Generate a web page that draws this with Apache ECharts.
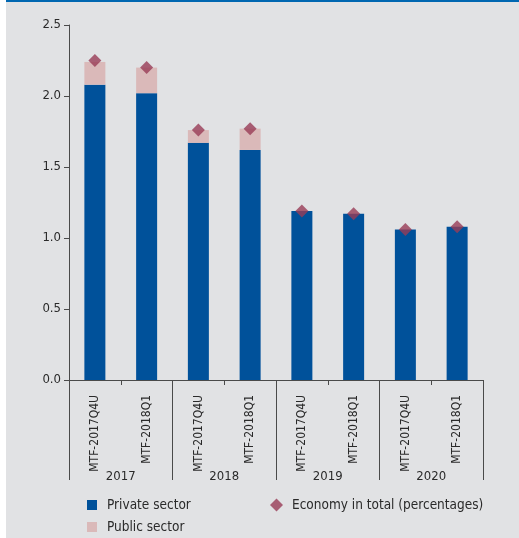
<!DOCTYPE html>
<html>
<head>
<meta charset="utf-8">
<script src="https://cdn.jsdelivr.net/npm/echarts@6/dist/echarts.min.js"></script>
<style>
  html, body { margin: 0; padding: 0; background: #ffffff; }
  #chart {
    position: absolute;
    left: 6px;
    top: 0;
    width: 513px;
    height: 536px;
    border-top: 2px solid #0067b1;
    background: #e1e2e4;
  }
</style>
</head>
<body>
<div id="chart"></div>
<script>
// categories: two vintages per year
const vintages = ["MTF-2017Q4U", "MTF-2018Q1", "MTF-2017Q4U", "MTF-2018Q1",
                  "MTF-2017Q4U", "MTF-2018Q1", "MTF-2017Q4U", "MTF-2018Q1"];
const years = ["2017", "2018", "2019", "2020"];

const privateSector = [2.08, 2.02, 1.67, 1.62, 1.19, 1.17, 1.06, 1.08];
const publicSector = [0.16, 0.18, 0.09, 0.15, 0.0, 0.0, 0.0, 0.0];
const economyTotal = [2.25, 2.20, 1.76, 1.77, 1.19, 1.17, 1.06, 1.08];

const yTicks = { min: 0, max: 2.5, interval: 0.5 };

const FONT = "'DejaVu Sans Condensed', 'Liberation Sans', sans-serif";
const TXT = "#2a2a2a";
const AXIS = "#4a4a4a";

const chart = echarts.init(document.getElementById("chart"), null, { renderer: "canvas" });

function legendItem(name, left, top, icon, size, pad) {
  return {
    data: [{ name: name, icon: icon }],
    left: left,
    top: top,
    itemWidth: size,
    itemHeight: size,
    textStyle: { fontFamily: FONT, fontSize: 13.5, color: TXT, padding: [0, 0, 0, pad] },
    selectedMode: false
  };
}

const option = {
  animation: false,
  backgroundColor: "transparent",
  textStyle: { fontFamily: FONT, color: TXT },
  grid: { left: 63, right: 36, top: 23, bottom: 158 },
  legend: [
    legendItem("Private sector", 76, 491, "rect", 10, 5),
    legendItem("Public sector", 76, 513, "rect", 10, 5),
    legendItem("Economy in total (percentages)", 259, 491, "diamond", 13, 4)
  ],
  xAxis: [
    {
      type: "category",
      data: vintages,
      position: "bottom",
      axisLine: { show: true, lineStyle: { color: AXIS, width: 1 } },
      axisTick: { show: true, length: 5, interval: 0, lineStyle: { color: AXIS } },
      axisLabel: {
        interval: 0,
        rotate: 90,
        margin: 15,
        fontSize: 12,
        fontFamily: FONT,
        color: TXT
      }
    },
    {
      type: "category",
      data: years,
      position: "bottom",
      axisLine: { show: true, lineStyle: { color: AXIS, width: 1 } },
      axisTick: { show: true, length: 100, interval: 0, lineStyle: { color: AXIS } },
      axisLabel: {
        interval: 0,
        margin: 90,
        fontSize: 13,
        fontFamily: FONT,
        color: TXT
      }
    }
  ],
  yAxis: {
    type: "value",
    min: yTicks.min,
    max: yTicks.max,
    interval: yTicks.interval,
    axisLine: { show: true, lineStyle: { color: AXIS, width: 1 } },
    axisTick: { show: true, length: 5, lineStyle: { color: AXIS } },
    splitLine: { show: false },
    axisLabel: {
      margin: 8,
      fontSize: 13,
      fontFamily: FONT,
      color: TXT,
      formatter: (v) => v.toFixed(1)
    }
  },
  series: [
    {
      name: "Private sector",
      type: "bar",
      stack: "total",
      xAxisIndex: 0,
      barWidth: 21,
      itemStyle: { color: "#00519a" },
      data: privateSector
    },
    {
      name: "Public sector",
      type: "bar",
      stack: "total",
      xAxisIndex: 0,
      barWidth: 21,
      itemStyle: { color: "#dab9b9" },
      data: publicSector
    },
    {
      name: "Economy in total (percentages)",
      type: "scatter",
      xAxisIndex: 0,
      symbol: "diamond",
      symbolSize: 13,
      z: 5,
      itemStyle: { color: "#993c56" },
      data: economyTotal
    }
  ]
};

chart.setOption(option);
</script>
</body>
</html>
